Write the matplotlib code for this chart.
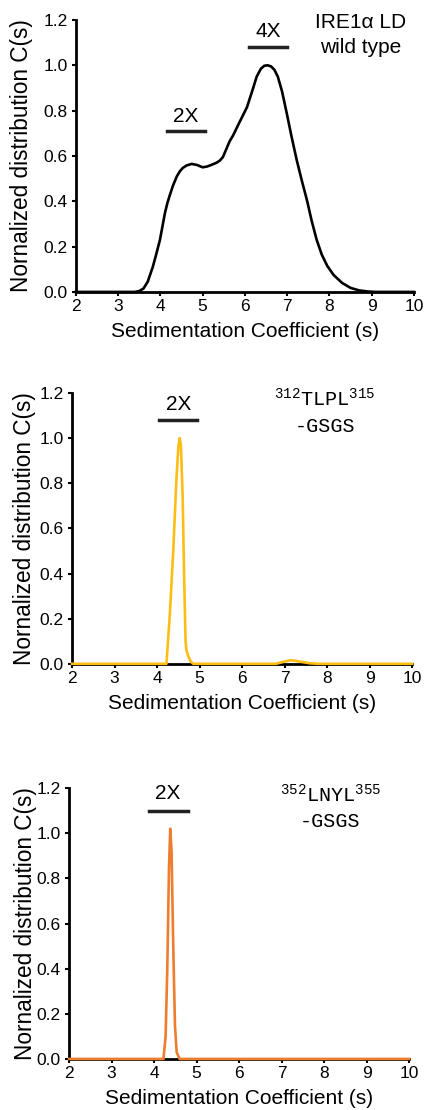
import matplotlib
matplotlib.use('Agg')
import matplotlib.pyplot as plt

plt.rcParams['font.family'] = ['Liberation Sans', 'DejaVu Sans']
plt.rcParams['mathtext.fontset'] = 'custom'
plt.rcParams['mathtext.rm'] = 'Liberation Mono'

# wild type, black trace
wt_s = [2, 3.4, 3.5, 3.6, 3.7, 3.82, 3.9, 3.99, 4.05, 4.11, 4.17, 4.22, 4.3, 4.39, 4.46, 4.53,
        4.62, 4.74, 4.87, 5.0, 5.1, 5.2, 5.33, 5.41, 5.48, 5.56, 5.64, 5.72, 5.85, 6.05, 6.18,
        6.28, 6.38, 6.46, 6.54, 6.62, 6.7, 6.78, 6.88, 6.99, 7.1, 7.23, 7.35, 7.47, 7.58, 7.7,
        7.82, 7.95, 8.1, 8.3, 8.5, 8.7, 8.9, 9.1, 10]
wt_c = [0, 0, 0.004, 0.015, 0.045, 0.11, 0.165, 0.23, 0.29, 0.35, 0.395, 0.425, 0.47, 0.51,
        0.532, 0.547, 0.558, 0.565, 0.56, 0.55, 0.553, 0.56, 0.57, 0.58, 0.595, 0.63, 0.665,
        0.69, 0.74, 0.815, 0.89, 0.95, 0.985, 0.998, 1.0, 0.995, 0.98, 0.95, 0.885, 0.79, 0.69,
        0.58, 0.49, 0.405, 0.315, 0.23, 0.165, 0.115, 0.075, 0.04, 0.018, 0.007, 0.002, 0, 0]

# 312TLPL315-GSGS, yellow trace
tl_s = [2, 4.22, 4.3, 4.38, 4.45, 4.5, 4.53, 4.56, 4.6, 4.64, 4.67, 4.69, 4.73, 4.79, 4.85,
        6.8, 7.0, 7.15, 7.35, 7.6, 7.8, 10]
tl_c = [0, 0, 0.22, 0.50, 0.80, 0.96, 1.0, 0.97, 0.75, 0.35, 0.10, 0.06, 0.035, 0.01, 0,
        0, 0.01, 0.016, 0.01, 0.002, 0, 0]

# 352LNYL355-GSGS, orange trace
ln_s = [2, 4.22, 4.27, 4.31, 4.35, 4.38, 4.41, 4.45, 4.49, 4.53, 4.6, 10]
ln_c = [0, 0, 0.10, 0.40, 0.85, 1.02, 0.92, 0.50, 0.15, 0.03, 0, 0]

fig = plt.figure(figsize=(4.24, 11.10), dpi=100)

panels = [
    ([0.179, 0.737, 0.797, 0.245], wt_s, wt_c, 'black', -0.128),
    ([0.170, 0.402, 0.802, 0.244], tl_s, tl_c, '#FDBD14', -0.106),
    ([0.163, 0.046, 0.802, 0.244], ln_s, ln_c, '#EE7D2F', -0.093),
]

axes = []
for rect, s, c, col, ylx in panels:
    ax = fig.add_axes(rect)
    ax.plot(s, c, color=col, lw=1.9, solid_joinstyle='round', clip_on=False, zorder=3)
    ax.set_xlim(2, 10)
    ax.set_ylim(0, 1.2)
    ax.set_xticks(range(2, 11))
    ax.set_yticks([0, 0.2, 0.4, 0.6, 0.8, 1.0, 1.2])
    ax.set_yticklabels(['0.0', '0.2', '0.4', '0.6', '0.8', '1.0', '1.2'])
    for sp in ['top', 'right']:
        ax.spines[sp].set_visible(False)
    for sp in ['left', 'bottom']:
        ax.spines[sp].set_linewidth(2)
        ax.spines[sp].set_color('black')
    ax.tick_params(direction='out', length=3, width=1.5, labelsize=12.5, colors='black')
    ax.tick_params(axis='x', pad=2)
    ax.tick_params(axis='y', pad=3)
    ax.set_ylabel('Nornalized distribution C(s)', fontsize=16.3)
    ax.yaxis.set_label_coords(ylx, 0.5)
    ax.set_xlabel('Sedimentation Coefficient (s)', fontsize=15, labelpad=6)
    axes.append(ax)

ax1, ax2, ax3 = axes

# oligomer bars and labels
ax1.plot([4.15, 5.05], [0.71, 0.71], color='#222222', lw=2.5)
ax1.text(4.6, 0.75, '2X', ha='center', va='baseline', fontsize=15)
ax1.plot([6.1, 7.0], [1.08, 1.08], color='#222222', lw=2.5)
ax1.text(6.55, 1.125, '4X', ha='center', va='baseline', fontsize=15)
ax1.text(8.75, 1.163, 'IRE1\u03b1 LD', ha='center', va='baseline', fontsize=15)
ax1.text(8.75, 1.053, 'wild type', ha='center', va='baseline', fontsize=15)

ax2.plot([4.05, 4.94], [1.08, 1.08], color='#222222', lw=2.5)
ax2.text(4.5, 1.124, '2X', ha='center', va='baseline', fontsize=15)
ax2.text(7.95, 1.14, r'$^{312}$TLPL$^{315}$', ha='center', va='baseline', fontsize=14.5,
         family='Liberation Mono')
ax2.text(7.95, 1.027, '-GSGS', ha='center', va='baseline', fontsize=14.5, family='Liberation Mono')

ax3.plot([3.88, 4.8], [1.10, 1.10], color='#222222', lw=2.5)
ax3.text(4.33, 1.15, '2X', ha='center', va='baseline', fontsize=15)
ax3.text(8.14, 1.137, r'$^{352}$LNYL$^{355}$', ha='center', va='baseline', fontsize=14.5,
         family='Liberation Mono')
ax3.text(8.14, 1.027, '-GSGS', ha='center', va='baseline', fontsize=14.5, family='Liberation Mono')

fig.savefig('out.png', dpi=100)
